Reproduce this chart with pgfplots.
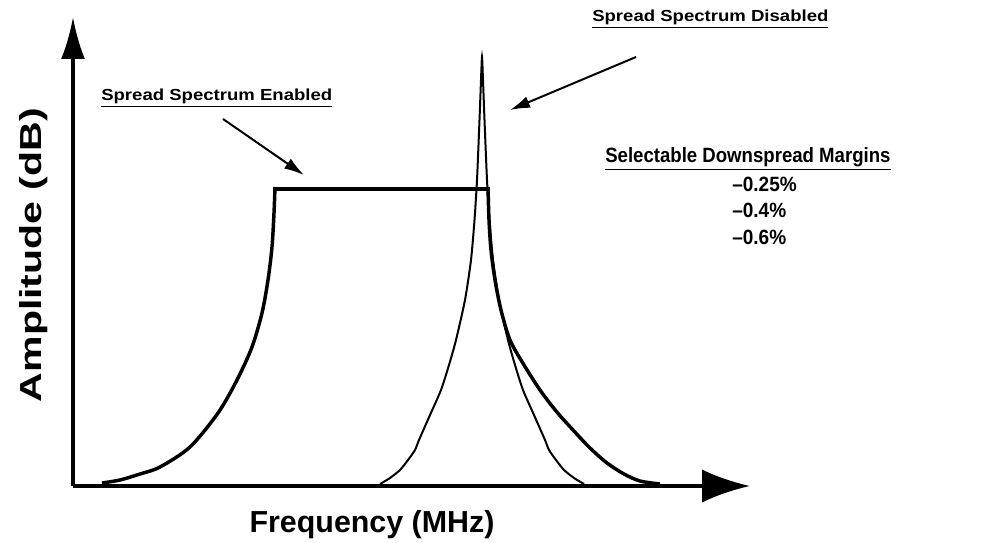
\documentclass[border=0pt]{standalone}
\usepackage{fontspec}
\setmainfont{Liberation Sans}
\usepackage{graphicx}
\usepackage{pgfplots}
\pgfplotsset{compat=1.18}
\usetikzlibrary{arrows.meta}
\begin{document}
\begin{tikzpicture}
\begin{axis}[
  x=0.75pt, y=0.75pt,
  xmin=73, xmax=750, ymin=56, ymax=525,
  axis lines=left,
  xtick=\empty, ytick=\empty,
  clip=false,
  x axis line style={line width=2.6pt, -{Latex[length=36pt,width=25pt]}},
  y axis line style={line width=2.6pt, -{Latex[length=31.5pt,width=18pt]}},
]
\path (axis cs:0,0) rectangle (axis cs:984,542);
% Spread spectrum enabled
\addplot[line width=2.6pt, smooth, tension=0.5] coordinates {
(102,59) (120,62) (140,68) (160,75) (190,95) (218,129) (237,162) (252,195) (262,229) (268,262) (272,295) (274,329) (275,355)};
\addplot[line width=2.6pt, line cap=rect] coordinates {(275,353) (488,353)};
\addplot[line width=2.6pt, smooth, tension=0.5] coordinates {
(488,355) (489,322) (491,292) (495,262) (501,232) (510,202) (524,177) (540,152) (556,131) (573,112) (590,94) (607,79) (624,68) (640,61) (660,58)};
% Spread spectrum disabled
\addplot[line width=1.5pt, smooth, tension=0.4] coordinates {
(380,58) (390,64) (400,72) (408,82) (415,92) (419,102) (430,127) (441,152) (449,177) (456,202) (465,242) (471,282) (474.5,322) (477,362) (479.5,422) (481,462) (482,485)
(483,462) (484.5,422) (487,362) (489.5,322) (493,282) (499,242) (508,202) (515,177) (523,152) (534,127) (545,102) (549,92) (556,82) (564,72) (574,64) (584,58)};
% annotation arrows
\addplot[line width=1.5pt, -{Latex[length=15pt,width=9pt]}] coordinates {(223,423) (304,367)};
\addplot[line width=1.5pt, -{Latex[length=15pt,width=9pt]}] coordinates {(636,485) (510,432)};
% texts
\node[anchor=base west, inner sep=0, font=\bfseries\fontsize{12}{14}\selectfont] at (axis cs:101,441) {\scalebox{1.16}[1]{\underline{Spread Spectrum Enabled}}};
\node[anchor=base west, inner sep=0, font=\bfseries\fontsize{12}{14}\selectfont] at (axis cs:592,520) {\scalebox{1.16}[1]{\underline{Spread Spectrum Disabled}}};
\node[anchor=base west, inner sep=0, font=\bfseries\fontsize{15.5}{18}\selectfont] at (axis cs:605,379) {\scalebox{0.9}[1]{\underline{Selectable Downspread Margins}}};
\node[anchor=base west, inner sep=0, font=\bfseries\fontsize{15.5}{18}\selectfont] at (axis cs:732,350) {\scalebox{0.92}[1]{\textendash0.25\%}};
\node[anchor=base west, inner sep=0, font=\bfseries\fontsize{15.5}{18}\selectfont] at (axis cs:732,324) {\scalebox{0.92}[1]{\textendash0.4\%}};
\node[anchor=base west, inner sep=0, font=\bfseries\fontsize{15.5}{18}\selectfont] at (axis cs:732,297) {\scalebox{0.92}[1]{\textendash0.6\%}};
\node[anchor=base, inner sep=0, font=\bfseries\fontsize{22.8}{26}\selectfont] at (axis cs:372,10) {Frequency (MHz)};
\node[anchor=base, inner sep=0, rotate=90, font=\bfseries\fontsize{22.8}{26}\selectfont] at (axis cs:42,287) {\scalebox{1.35}[1]{Amplitude (dB)}};
\end{axis}
\end{tikzpicture}
\end{document}
